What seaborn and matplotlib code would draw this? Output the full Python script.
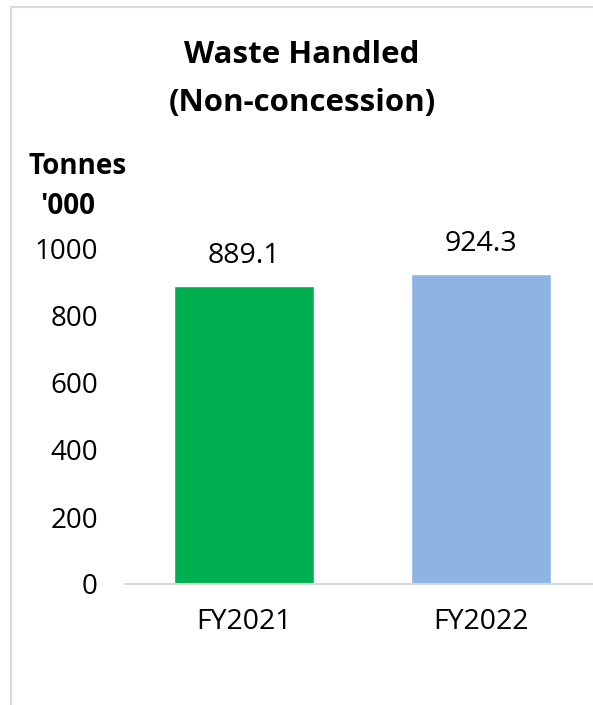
import matplotlib
matplotlib.use("Agg")
import matplotlib.pyplot as plt
import seaborn as sns
import pandas as pd
from matplotlib.patches import Rectangle

# chart data
years = ["FY2021", "FY2022"]
waste_tonnes = [889.1, 924.3]
bar_colors = ["#00B050", "#8EB4E3"]
y_ticks = [0, 200, 400, 600, 800, 1000]

df = pd.DataFrame({"year": years, "tonnes": waste_tonnes})

sns.set_style("white")
plt.rcParams["font.family"] = ["Open Sans", "DejaVu Sans"]
plt.rcParams["text.color"] = "black"
plt.rcParams["xtick.color"] = "black"
plt.rcParams["ytick.color"] = "black"

fig = plt.figure(figsize=(5.93, 7.05), dpi=100)
W, H = 593, 705

# axes: x from px 125 to right edge, y from 584 (0) to 249 (1000)
ax = fig.add_axes([125 / W, (H - 584) / H, (W - 125) / W, (584 - 249) / H])
sns.barplot(data=df, x="year", y="tonnes", hue="year", palette=bar_colors,
            width=0.59, legend=False, ax=ax, saturation=1)

ax.set_ylim(0, 1000)
ax.set_xlim(-0.5, 1.47)
ax.set_yticks(y_ticks)
ax.set_xlabel("")
ax.set_ylabel("")
ax.tick_params(axis="y", length=0, labelsize=20, colors="black", pad=19.5)
ax.tick_params(axis="x", length=0, labelsize=20.5, colors="black", pad=17)
for s in ["top", "right", "left"]:
    ax.spines[s].set_visible(False)
ax.spines["bottom"].set_color("#d9d9d9")
ax.spines["bottom"].set_linewidth(1.5)
ax.patch.set_alpha(0)

for i, v in enumerate(waste_tonnes):
    ax.annotate(f"{v:.1f}", (i, v), xytext=(0, 22), textcoords="offset points",
                ha="center", va="center", fontsize=20.5)

fig.text(302 / W, 1 - 55 / H, "Waste Handled", ha="center", va="center",
         fontsize=22.5, fontweight="bold")
fig.text(302 / W, 1 - 103 / H, "(Non-concession)", ha="center", va="center",
         fontsize=22.5, fontweight="bold")
fig.text(78 / W, 1 - 166 / H, "Tonnes", ha="center", va="center",
         fontsize=20, fontweight="bold")
fig.text(68 / W, 1 - 206 / H, "'000", ha="center", va="center",
         fontsize=20, fontweight="bold")

# light outer frame (left and top edges visible)
fig.patches.append(Rectangle((11 / W, -0.05), 1.2, 1 - 7 / H + 0.05,
                             transform=fig.transFigure, fill=False,
                             edgecolor="#d9d9d9", linewidth=1.5))

fig.savefig("out.png", dpi=100)
plt.close(fig)
